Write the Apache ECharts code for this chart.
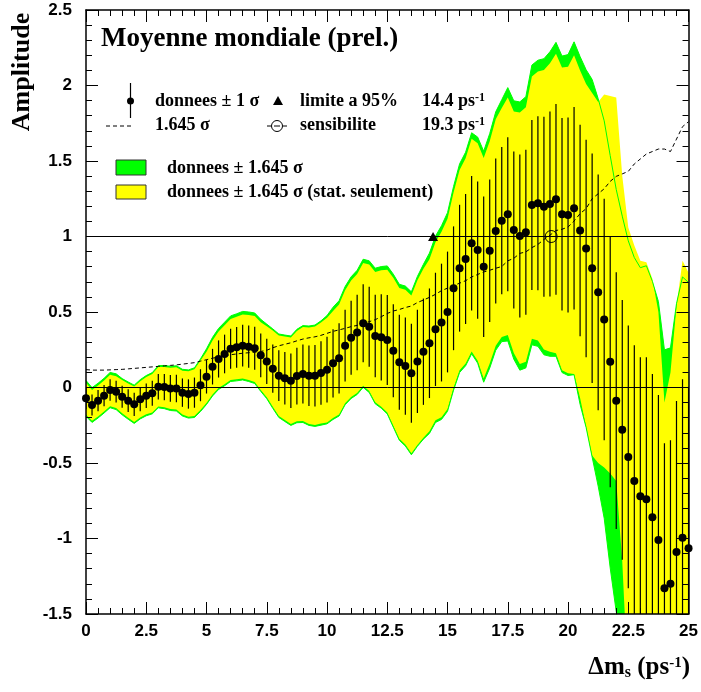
<!DOCTYPE html>
<html><head><meta charset="utf-8">
<script src="https://cdn.jsdelivr.net/npm/echarts@6/dist/echarts.min.js"></script>
<style>html,body{margin:0;padding:0;background:#fff}#c{width:701px;height:692px}</style>
</head><body><div id="c"></div>
<script>
// ---- data ----
const xs = [0,0.25,0.5,0.75,1,1.25,1.5,1.75,2,2.25,2.5,2.75,3,3.25,3.5,3.75,4,4.25,4.5,4.75,
  5,5.25,5.5,5.75,6,6.25,6.5,6.75,7,7.25,7.5,7.75,8,8.25,8.5,8.75,9,9.25,9.5,9.75,
  10,10.25,10.5,10.75,11,11.25,11.5,11.75,12,12.25,12.5,12.75,13,13.25,13.5,13.75,14,14.25,14.5,14.75,
  15,15.25,15.5,15.75,16,16.25,16.5,16.75,17,17.25,17.5,17.75,18,18.25,18.5,18.75,19,19.25,19.5,19.75,
  20,20.25,20.5,20.75,21,21.25,21.5,21.75,22,22.25,22.5,22.75,23,23.25,23.5,23.75,24,24.25,24.5,24.75,25];

const amp = [-0.072,-0.116,-0.087,-0.054,-0.017,-0.028,-0.061,-0.087,-0.111,-0.078,
 -0.054,-0.038,0.005,0.003,-0.006,-0.006,-0.034,-0.043,-0.034,0.015,
 0.072,0.138,0.189,0.222,0.257,0.266,0.277,0.270,0.260,0.213,
 0.173,0.125,0.078,0.061,0.045,0.076,0.089,0.078,0.078,0.096,
 0.118,0.160,0.193,0.277,0.330,0.365,0.425,0.403,0.341,0.332,
 0.315,0.244,0.167,0.142,0.094,0.173,0.237,0.293,0.385,0.430,
 0.500,0.657,0.790,0.851,0.955,0.910,0.800,0.905,1.036,1.105,
 1.147,1.043,1.003,1.028,1.209,1.220,1.197,1.215,1.246,1.147,
 1.142,1.187,1.040,0.920,0.790,0.630,0.450,0.170,-0.087,-0.280,
 -0.460,-0.620,-0.720,-0.740,-0.860,-1.010,-1.330,-1.300,-1.090,-0.995,
 -1.065];

// 1 sigma (total) from the error bars
const sig = [0.072,0.070,0.070,0.070,0.071,0.072,0.073,0.075,0.077,0.079,
 0.081,0.083,0.085,0.087,0.089,0.091,0.094,0.097,0.100,0.106,
 0.112,0.118,0.123,0.128,0.132,0.135,0.138,0.140,0.142,0.145,
 0.150,0.160,0.168,0.174,0.180,0.188,0.195,0.200,0.204,0.210,
 0.218,0.226,0.232,0.238,0.245,0.250,0.258,0.265,0.273,0.285,
 0.298,0.308,0.314,0.322,0.328,0.342,0.352,0.363,0.375,0.390,
 0.400,0.410,0.420,0.430,0.445,0.455,0.465,0.472,0.480,0.487,
 0.510,0.520,0.540,0.546,0.563,0.576,0.596,0.613,0.632,0.637,
 0.646,0.670,0.700,0.720,0.760,0.780,0.800,0.830,0.850,0.860,
 0.870,0.900,0.920,0.940,0.950,0.960,0.960,0.950,1.000,1.050,
 1.070];

// stat-only band edges (yellow)
const yellowHi = [0.031,-0.016,0.013,0.046,0.085,0.075,0.049,0.026,0.006,0.042,
 0.069,0.089,0.135,0.136,0.130,0.134,0.111,0.107,0.121,0.179,
 0.236,0.312,0.371,0.413,0.454,0.468,0.484,0.480,0.474,0.432,
 0.405,0.378,0.344,0.337,0.331,0.375,0.400,0.397,0.404,0.431,
 0.462,0.507,0.550,0.644,0.708,0.751,0.824,0.814,0.765,0.776,
 0.780,0.726,0.659,0.647,0.609,0.711,0.786,0.850,0.962,1.032,
 1.118,1.291,1.441,1.518,1.647,1.618,1.520,1.631,1.776,1.851,
 1.921,1.828,1.821,1.856,2.060,2.093,2.102,2.148,2.211,2.120,
 2.125,2.200,2.100,2.010,1.950,1.890,1.940,1.930,1.920,1.400,
 1.060,0.940,0.840,0.830,0.720,0.500,-0.100,0.100,0.540,0.840,
 0.760];
const yellowLo = [-0.180,-0.221,-0.192,-0.159,-0.124,-0.136,-0.171,-0.200,-0.228,-0.198,
 -0.177,-0.165,-0.125,-0.130,-0.142,-0.146,-0.179,-0.193,-0.189,-0.149,
 -0.102,-0.046,-0.003,0.021,0.050,0.054,0.060,0.050,0.036,-0.016,
 -0.064,-0.128,-0.188,-0.215,-0.241,-0.223,-0.222,-0.241,-0.248,-0.239,
 -0.231,-0.202,-0.179,-0.105,-0.063,-0.036,0.011,-0.023,-0.098,-0.127,
 -0.165,-0.253,-0.340,-0.378,-0.436,-0.380,-0.332,-0.289,-0.217,-0.197,
 -0.143,-0.002,0.114,0.159,0.238,0.177,0.060,0.159,0.276,0.334,
 0.348,0.228,0.155,0.170,0.323,0.312,0.252,0.237,0.226,0.114,
 0.094,0.090,-0.070,-0.260,-0.450,-0.500,-0.530,-0.570,-0.620,-1.150,
 -2.0,-2.0,-2.0,-2.0,-2.0,-2.0,-2.0,-2.0,-2.0,-2.0,
 -2.0];

const limit95 = [14.4, 1.0];
const sensibilite = [19.3, 1.0];
const refLines = [0, 1];
const NSIG = 1.645;

// ---- derived series ----
const greenHi = amp.map((a, i) => a + NSIG * sig[i]);
const greenLo = amp.map((a, i) => a - NSIG * sig[i]);
const sens = sig.map(s => NSIG * s);

const GREEN = '#00ff00', YELLOW = '#ffff00';
const SERIF = '"Liberation Serif","Times New Roman",serif';
const SANS = '"Liberation Sans",Arial,sans-serif';

function band(hi, lo, color, z) {
  return {
    type: 'custom', clip: true, silent: true, z: z, data: [[0, 0]],
    renderItem: function (params, api) {
      const pts = [];
      for (let i = 0; i < xs.length; i++) pts.push(api.coord([xs[i], hi[i]]));
      for (let i = xs.length - 1; i >= 0; i--) pts.push(api.coord([xs[i], lo[i]]));
      return { type: 'polygon', shape: { points: pts }, style: { fill: color, stroke: null } };
    }
  };
}
function pairs(arr) { return xs.map((x, i) => [x, arr[i]]); }

const chart = echarts.init(document.getElementById('c'), null, { renderer: 'canvas' });

const axisCommon = {
  axisLine: { show: true, onZero: false, lineStyle: { color: '#000', width: 1.5 } },
  axisTick: { show: true, inside: true, length: 12, lineStyle: { color: '#000', width: 1 } },
  minorTick: { show: true, splitNumber: 5, length: 6, lineStyle: { color: '#000', width: 1 } },
  splitLine: { show: false }, minorSplitLine: { show: false }, z: 10
};
const labelStyle = { color: '#000', fontFamily: SANS, fontWeight: 'bold', fontSize: 17 };

const option = {
  animation: false,
  backgroundColor: '#fff',
  grid: { left: 86, top: 10, width: 603, height: 604, containLabel: false },
  xAxis: [
    Object.assign({ type: 'value', min: 0, max: 25, interval: 2.5, position: 'bottom',
      axisLabel: Object.assign({ margin: 9 }, labelStyle) }, axisCommon),
    Object.assign({ type: 'value', min: 0, max: 25, interval: 2.5, position: 'top',
      axisLabel: { show: false } }, axisCommon)
  ],
  yAxis: [
    Object.assign({ type: 'value', min: -1.5, max: 2.5, interval: 0.5, position: 'left',
      axisLabel: Object.assign({ margin: 14 }, labelStyle) }, axisCommon),
    Object.assign({ type: 'value', min: -1.5, max: 2.5, interval: 0.5, position: 'right',
      axisLabel: { show: false } }, axisCommon)
  ],
  series: [
    band(greenHi, greenLo, GREEN, 1),
    band(yellowHi, yellowLo, YELLOW, 2),
    { type: 'line', data: pairs(greenHi), symbol: 'none', z: 3, silent: true,
      lineStyle: { color: GREEN, width: 1 } },
    { type: 'line', data: pairs(greenLo), symbol: 'none', z: 3, silent: true,
      lineStyle: { color: GREEN, width: 1 } },
    { type: 'line', data: [[0, refLines[0]], [25, refLines[0]]], symbol: 'none', z: 4,
      lineStyle: { color: '#000', width: 1 } },
    { type: 'line', data: [[0, refLines[1]], [25, refLines[1]]], symbol: 'none', z: 4,
      lineStyle: { color: '#000', width: 1 } },
    { type: 'line', data: pairs(sens), symbol: 'none', z: 4,
      lineStyle: { color: '#000', width: 1, type: [4, 3] } },
    { type: 'custom', clip: true, z: 5,
      data: xs.map((x, i) => [x, amp[i] - sig[i], amp[i] + sig[i]]),
      renderItem: function (params, api) {
        const p1 = api.coord([api.value(0), api.value(1)]);
        const p2 = api.coord([api.value(0), api.value(2)]);
        return { type: 'line', shape: { x1: p1[0], y1: p1[1], x2: p2[0], y2: p2[1] },
          style: { stroke: '#000', lineWidth: 1.2 } };
      }
    },
    { type: 'scatter', data: pairs(amp), symbol: 'circle', symbolSize: 8, z: 6,
      itemStyle: { color: '#000', opacity: 1 } },
    { type: 'scatter', data: [limit95], symbol: 'triangle', symbolSize: [10, 9], z: 6,
      itemStyle: { color: '#000', opacity: 1 } },
    { type: 'scatter', data: [sensibilite], symbol: 'circle', symbolSize: 12, z: 6,
      itemStyle: { color: 'rgba(0,0,0,0)', borderColor: '#000', borderWidth: 1, opacity: 1 } }
  ],
  graphic: [
    { type: 'text', x: 101, y: 39, z: 20, style: { text: 'Moyenne mondiale (prel.)', font: 'bold 27px ' + SERIF, fill: '#000', verticalAlign: 'middle' } },
    // legend row 1
    { type: 'line', z: 20, shape: { x1: 130.5, y1: 83, x2: 130.5, y2: 118 }, style: { stroke: '#000', lineWidth: 1.2 } },
    { type: 'circle', z: 20, shape: { cx: 130.5, cy: 101, r: 3.5 }, style: { fill: '#000' } },
    { type: 'text', x: 155, y: 101, z: 20, style: { text: 'donnees ± 1 σ', font: 'bold 18px ' + SERIF, fill: '#000', verticalAlign: 'middle' } },
    { type: 'polygon', z: 20, shape: { points: [[273, 105], [283, 105], [278, 96]] }, style: { fill: '#000' } },
    { type: 'text', x: 300, y: 101, z: 20, style: { text: 'limite a 95%', font: 'bold 18px ' + SERIF, fill: '#000', verticalAlign: 'middle' } },
    { type: 'text', x: 422, y: 101, z: 20, style: { text: '{n|14.4 ps}{s|-1}', verticalAlign: 'middle', fill: '#000',
      rich: { n: { font: 'bold 18px ' + SERIF, fill: '#000' }, s: { font: 'bold 12px ' + SERIF, fill: '#000', verticalAlign: 'top' } } } },
    // legend row 2
    { type: 'line', z: 20, shape: { x1: 106, y1: 126, x2: 134, y2: 126 }, style: { stroke: '#000', lineWidth: 1, lineDash: [4, 3] } },
    { type: 'text', x: 155, y: 125, z: 20, style: { text: '1.645 σ', font: 'bold 18px ' + SERIF, fill: '#000', verticalAlign: 'middle' } },
    { type: 'line', z: 20, shape: { x1: 267, y1: 126, x2: 271, y2: 126 }, style: { stroke: '#000', lineWidth: 1 } },
    { type: 'line', z: 20, shape: { x1: 283, y1: 126, x2: 287, y2: 126 }, style: { stroke: '#000', lineWidth: 1 } },
    { type: 'circle', z: 20, shape: { cx: 277, cy: 126, r: 5.5 }, style: { fill: 'none', stroke: '#000', lineWidth: 1 } },
    { type: 'line', z: 20, shape: { x1: 274, y1: 126, x2: 280, y2: 126 }, style: { stroke: '#000', lineWidth: 1 } },
    { type: 'text', x: 300, y: 125, z: 20, style: { text: 'sensibilite', font: 'bold 18px ' + SERIF, fill: '#000', verticalAlign: 'middle' } },
    { type: 'text', x: 422, y: 125, z: 20, style: { text: '{n|19.3 ps}{s|-1}', verticalAlign: 'middle', fill: '#000',
      rich: { n: { font: 'bold 18px ' + SERIF, fill: '#000' }, s: { font: 'bold 12px ' + SERIF, fill: '#000', verticalAlign: 'top' } } } },
    // legend boxes
    { type: 'rect', z: 20, shape: { x: 116, y: 160, width: 30, height: 15 }, style: { fill: GREEN, stroke: '#333', lineWidth: 1 } },
    { type: 'text', x: 167, y: 168, z: 20, style: { text: 'donnees ± 1.645 σ', font: 'bold 18px ' + SERIF, fill: '#000', verticalAlign: 'middle' } },
    { type: 'rect', z: 20, shape: { x: 116, y: 185, width: 30, height: 14 }, style: { fill: YELLOW, stroke: '#333', lineWidth: 1 } },
    { type: 'text', x: 167, y: 192, z: 20, style: { text: 'donnees ± 1.645 σ (stat. seulement)', font: 'bold 18px ' + SERIF, fill: '#000', verticalAlign: 'middle' } },
    // axis titles
    { type: 'text', x: 22, y: 72, rotation: Math.PI / 2, z: 20, style: { text: 'Amplitude', font: 'bold 26px ' + SERIF, fill: '#000', align: 'center', verticalAlign: 'middle' } },
    { type: 'text', x: 690, y: 668, z: 20, style: { text: '{n|Δm}{b|s}{n| (ps}{s|-1}{n|)}', align: 'right', verticalAlign: 'middle', fill: '#000',
      rich: { n: { font: 'bold 25px ' + SERIF, fill: '#000' }, b: { font: 'bold 16px ' + SERIF, fill: '#000', verticalAlign: 'bottom' }, s: { font: 'bold 15px ' + SERIF, fill: '#000', verticalAlign: 'top' } } } }
  ]
};
chart.setOption(option);
</script>
</body></html>
